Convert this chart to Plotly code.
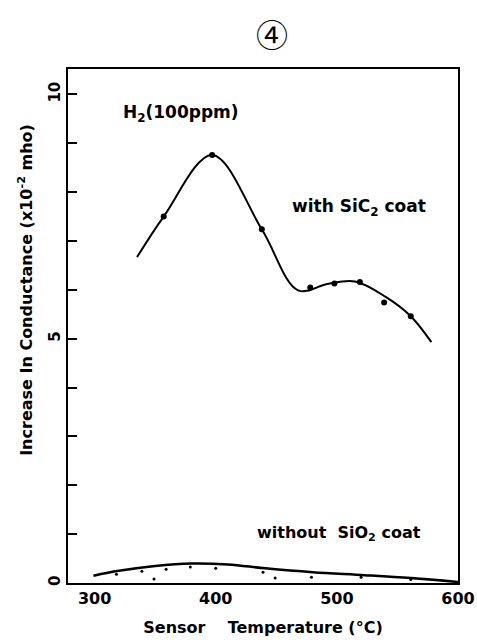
import plotly.graph_objects as go

# Measured points, sensor with SiC2 coat (temperature in °C, conductance x10^-2 mho)
coat_temp = [357, 397, 438, 478, 498, 519, 539, 561]
coat_val = [7.50, 8.76, 7.24, 6.05, 6.13, 6.16, 5.74, 5.46]

# Fitted curve, sensor with SiC2 coat
coat_curve_temp = [335, 357, 397, 438, 468, 492, 515, 540, 561, 578]
coat_curve_val = [6.67, 7.50, 8.76, 7.24, 5.99, 6.12, 6.17, 5.86, 5.46, 4.93]

# Measured points, sensor without SiO2 coat
bare_temp = [318, 339, 349, 359, 379, 400, 439, 449, 479, 520, 561]
bare_val = [0.18, 0.24, 0.08, 0.28, 0.33, 0.30, 0.22, 0.10, 0.12, 0.12, 0.07]

# Fitted curve, sensor without SiO2 coat
bare_curve_temp = [299, 320, 350, 380, 410, 441, 480, 523, 561, 600]
bare_curve_val = [0.15, 0.25, 0.35, 0.40, 0.38, 0.30, 0.22, 0.16, 0.10, 0.02]

x_ticks = [300, 400, 500, 600]
x_tick_text = ["300", "400", "500", "600"]
y_ticks = [0, 5, 10]
y_tick_text = ["0", "5", "10"]
y_minor_step = 1

font_main = "DejaVu Sans"
font_weight = "bold"

fig = go.Figure()

fig.add_trace(go.Scatter(
    x=coat_curve_temp, y=coat_curve_val, mode="lines",
    line=dict(color="black", width=2, shape="spline", smoothing=1.0),
    hoverinfo="skip",
))
fig.add_trace(go.Scatter(
    x=coat_temp, y=coat_val, mode="markers",
    marker=dict(color="black", size=6),
))
fig.add_trace(go.Scatter(
    x=bare_curve_temp, y=bare_curve_val, mode="lines",
    line=dict(color="black", width=2.5, shape="spline", smoothing=1.0),
    hoverinfo="skip",
))
fig.add_trace(go.Scatter(
    x=bare_temp, y=bare_val, mode="markers",
    marker=dict(color="black", size=3),
))

fig.add_annotation(
    x=0.523, y=1.0, xref="paper", yref="paper", yshift=36, yanchor="middle",
    text="④", showarrow=False,
    font=dict(family="Noto Sans CJK JP", size=32, color="black", weight="normal"),
)
fig.add_annotation(
    x=322, y=9.6, xref="x", yref="y", xanchor="left",
    text="H<sub>2</sub>(100ppm)", showarrow=False,
    font=dict(family=font_main, size=17, color="black", weight=font_weight),
)
fig.add_annotation(
    x=518, y=7.69, xref="x", yref="y",
    text="with SiC<sub>2</sub> coat", showarrow=False,
    font=dict(family=font_main, size=17, color="black", weight=font_weight),
)
fig.add_annotation(
    x=502, y=1.02, xref="x", yref="y",
    text="without  SiO<sub>2</sub> coat", showarrow=False,
    font=dict(family=font_main, size=16, color="black", weight=font_weight),
)
# Y-axis title, set slightly above the middle of the axis
fig.add_annotation(
    x=0, y=6.0, xref="paper", yref="y", xanchor="center", xshift=-42,
    text="Increase In Conductance (x10<sup>-2</sup> mho)", textangle=-90,
    showarrow=False,
    font=dict(family=font_main, size=16, color="black", weight=font_weight),
)

fig.update_layout(
    width=477, height=640,
    margin=dict(l=68, r=19, t=69, b=57),
    paper_bgcolor="white", plot_bgcolor="white",
    showlegend=False,
    font=dict(family=font_main, color="black", weight=font_weight),
    xaxis=dict(
        range=[278, 600], tickvals=x_ticks, ticktext=x_tick_text,
        automargin=False,
        showgrid=False, zeroline=False,
        showline=True, linecolor="black", linewidth=2, mirror=True,
        ticks="", tickfont=dict(size=16, color="black", weight=font_weight),
        title=dict(text="Sensor    Temperature (°C)",
                   font=dict(size=16, color="black", weight=font_weight),
                   standoff=15),
    ),
    yaxis=dict(
        range=[0, 10.52], tickvals=y_ticks, ticktext=y_tick_text,
        automargin=False,
        showgrid=False, zeroline=False,
        showline=True, linecolor="black", linewidth=2, mirror=True,
        ticks="inside", ticklen=9, tickwidth=2, tickcolor="black",
        minor=dict(ticks="inside", ticklen=9, tickwidth=2, tickcolor="black",
                   tick0=0, dtick=y_minor_step, showgrid=False),
        tickangle=-90, tickfont=dict(size=15, color="black", weight=font_weight),
    ),
)

fig.write_html("out.html")
